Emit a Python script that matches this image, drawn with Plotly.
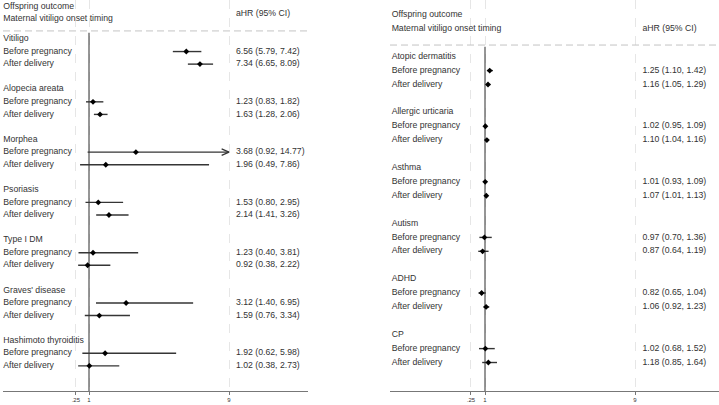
import plotly.graph_objects as go

# ---------------- data ----------------
left_outcomes = ["Vitiligo", "Alopecia areata", "Morphea", "Psoriasis",
                 "Type I DM", "Graves' disease", "Hashimoto thyroiditis"]
left_before_est = [6.56, 1.23, 3.68, 1.53, 1.23, 3.12, 1.92]
left_before_lo = [5.79, 0.83, 0.92, 0.80, 0.40, 1.40, 0.62]
left_before_hi = [7.42, 1.82, 14.77, 2.95, 3.81, 6.95, 5.98]
left_after_est = [7.34, 1.63, 1.96, 2.14, 0.92, 1.59, 1.02]
left_after_lo = [6.65, 1.28, 0.49, 1.41, 0.38, 0.76, 0.38]
left_after_hi = [8.09, 2.06, 7.86, 3.26, 2.22, 3.34, 2.73]

right_outcomes = ["Atopic dermatitis", "Allergic urticaria", "Asthma",
                  "Autism", "ADHD", "CP"]
right_before_est = [1.25, 1.02, 1.01, 0.97, 0.82, 1.02]
right_before_lo = [1.10, 0.95, 0.93, 0.70, 0.65, 0.68]
right_before_hi = [1.42, 1.09, 1.09, 1.36, 1.04, 1.52]
right_after_est = [1.16, 1.10, 1.07, 0.87, 1.06, 1.18]
right_after_lo = [1.05, 1.04, 1.01, 0.64, 0.92, 0.85]
right_after_hi = [1.29, 1.16, 1.13, 1.19, 1.23, 1.64]

timing_labels = ["Before pregnancy", "After delivery"]
header_outcome = "Offspring outcome"
header_timing = "Maternal vitiligo onset timing"
header_est = "aHR (95% CI)"
tick_vals = [0.25, 1, 9]
tick_text = [".25", "1", "9"]
null_value = 1
clip_max = 9

# ---------------- style ----------------
FONT = "Liberation Sans, Arial, sans-serif"
FS = 8.7
TXT = "#333333"
W, H = 719, 405

fig = go.Figure()

panels = [
    dict(xa="x", ya="y", outcomes=left_outcomes,
         be=left_before_est, bl=left_before_lo, bh=left_before_hi,
         ae=left_after_est, al=left_after_lo, ah=left_after_hi,
         xrange=[-3.914, 13.514], yrange=[28.0, -3.1],
         domain=[3 / W, 308 / W], label_x=-3.90, val_x=9.40,
         hdr_out=-2.54, hdr_tim=-1.59, hdr_est=-1.99, dash_row=-0.64,
         ref_top=-0.5, arrow_dx=0.42, arrow_dy=0.26),
    dict(xa="x2", ya="y2", outcomes=right_outcomes,
         be=right_before_est, bl=right_before_lo, bh=right_before_hi,
         ae=right_after_est, al=right_after_lo, ah=right_after_hi,
         xrange=[-4.067, 13.48], yrange=[24.05, -4.08],
         domain=[390 / W, 1.0], label_x=-3.98, val_x=9.40,
         hdr_out=-3.0, hdr_tim=-1.99, hdr_est=-1.99, dash_row=-0.84,
         ref_top=-0.72, arrow_dx=0.4, arrow_dy=0.24),
]

for p in panels:
    xa, ya = p["xa"], p["ya"]
    labels, label_rows, vals, val_rows = [], [], [], []
    ci_x, ci_y, pt_x, pt_y = [], [], [], []
    arr_x, arr_y = [], []
    bottom = p["yrange"][0]
    for i, name in enumerate(p["outcomes"]):
        base = 4 * i
        labels.append(name)
        label_rows.append(base)
        rows = [(p["be"][i], p["bl"][i], p["bh"][i]),
                (p["ae"][i], p["al"][i], p["ah"][i])]
        for j, (e, lo, hi) in enumerate(rows):
            r = base + 1 + j
            labels.append(timing_labels[j])
            label_rows.append(r)
            vals.append(f"{e:.2f} ({lo:.2f}, {hi:.2f})")
            val_rows.append(r)
            hi_c = min(hi, clip_max)
            ci_x += [lo, hi_c, None]
            ci_y += [r, r, None]
            pt_x.append(e)
            pt_y.append(r)
            if hi > clip_max:
                arr_x += [hi_c - p["arrow_dx"], hi_c, hi_c - p["arrow_dx"], None]
                arr_y += [r - p["arrow_dy"], r, r + p["arrow_dy"], None]

    # header dashed separator
    fig.add_trace(go.Scatter(x=[p["xrange"][0], p["xrange"][1]],
                             y=[p["dash_row"], p["dash_row"]], mode="lines",
                             line=dict(color="#c4c4c4", width=1, dash="7px,4px"),
                             xaxis=xa, yaxis=ya, hoverinfo="skip", showlegend=False))
    # null reference line
    fig.add_trace(go.Scatter(x=[null_value, null_value], y=[p["ref_top"], bottom],
                             mode="lines", line=dict(color="#505050", width=1.2),
                             xaxis=xa, yaxis=ya, hoverinfo="skip", showlegend=False))
    # CI lines
    fig.add_trace(go.Scatter(x=ci_x, y=ci_y, mode="lines",
                             line=dict(color="#353535", width=1.4),
                             xaxis=xa, yaxis=ya, hoverinfo="skip", showlegend=False))
    if arr_x:
        fig.add_trace(go.Scatter(x=arr_x, y=arr_y, mode="lines",
                                 line=dict(color="#353535", width=1.2),
                                 xaxis=xa, yaxis=ya, hoverinfo="skip", showlegend=False))
    # point estimates
    fig.add_trace(go.Scatter(x=pt_x, y=pt_y, mode="markers",
                             marker=dict(symbol="diamond", size=4.5, color="black",
                                         line=dict(width=0)),
                             xaxis=xa, yaxis=ya, hoverinfo="skip", showlegend=False))
    # row labels
    fig.add_trace(go.Scatter(x=[p["label_x"]] * len(labels), y=label_rows,
                             text=labels, mode="text", textposition="middle right",
                             textfont=dict(family=FONT, size=FS, color=TXT),
                             xaxis=xa, yaxis=ya, hoverinfo="skip", showlegend=False))
    # estimates text
    fig.add_trace(go.Scatter(x=[p["val_x"]] * len(vals), y=val_rows,
                             text=vals, mode="text", textposition="middle right",
                             textfont=dict(family=FONT, size=FS, color=TXT),
                             xaxis=xa, yaxis=ya, hoverinfo="skip", showlegend=False))
    # headers
    fig.add_trace(go.Scatter(x=[p["label_x"], p["label_x"], p["val_x"]],
                             y=[p["hdr_out"], p["hdr_tim"], p["hdr_est"]],
                             text=[header_outcome, header_timing, header_est],
                             mode="text", textposition="middle right",
                             textfont=dict(family=FONT, size=FS, color=TXT),
                             xaxis=xa, yaxis=ya, hoverinfo="skip", showlegend=False))

ydom = [(H - 391) / H, 1.0]
xcommon = dict(tickmode="array", tickvals=tick_vals, ticktext=tick_text,
               tickfont=dict(family=FONT, size=6, color=TXT),
               ticks="outside", ticklen=3, tickcolor="#777777", tickwidth=1,
               showline=True, linecolor="#777777", linewidth=1,
               showgrid=True, gridcolor="#e6e6e6", griddash="dash", gridwidth=1,
               zeroline=False, fixedrange=True)
ycommon = dict(showgrid=False, showticklabels=False, zeroline=False,
               showline=False, ticks="", fixedrange=True)

fig.update_layout(
    width=W, height=H,
    margin=dict(l=0, r=0, t=0, b=0),
    paper_bgcolor="white", plot_bgcolor="white",
    showlegend=False,
    xaxis=dict(domain=panels[0]["domain"], range=panels[0]["xrange"],
               anchor="y", **xcommon),
    yaxis=dict(domain=ydom, range=panels[0]["yrange"], anchor="x", **ycommon),
    xaxis2=dict(domain=panels[1]["domain"], range=panels[1]["xrange"],
                anchor="y2", **xcommon),
    yaxis2=dict(domain=ydom, range=panels[1]["yrange"], anchor="x2", **ycommon),
)

fig.write_html("out.html")
